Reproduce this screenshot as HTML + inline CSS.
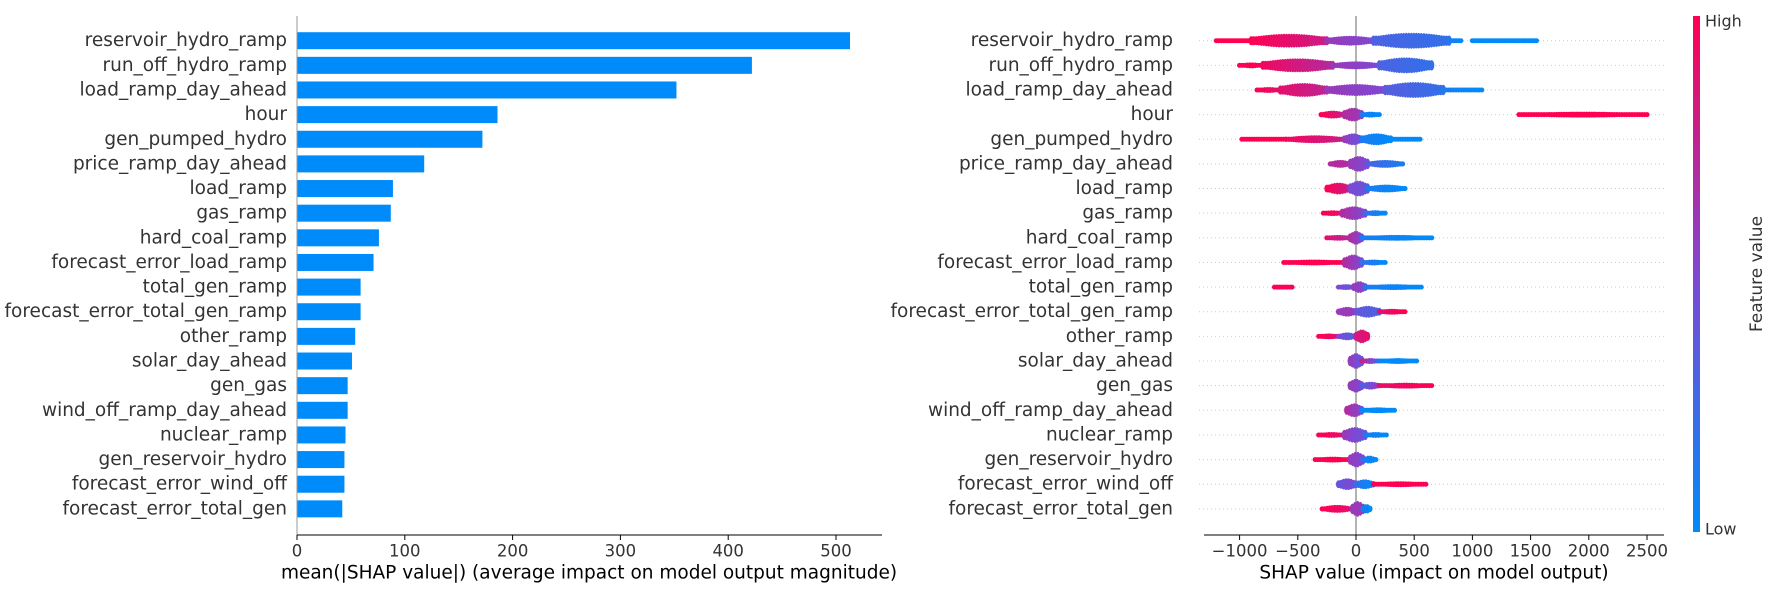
<!DOCTYPE html>
<html><head><meta charset="utf-8"><style>
html,body{margin:0;padding:0;background:#fff;}
svg{display:block;font-family:"DejaVu Sans","Liberation Sans",sans-serif;}
</style></head><body>
<svg id="chart" width="1765" height="590" viewBox="0 0 1765 590" xmlns="http://www.w3.org/2000/svg">
<defs>
<linearGradient id="cbg" x1="0" y1="1" x2="0" y2="0">
<stop offset="0" stop-color="#008afa"/><stop offset="0.5" stop-color="#7f48d2"/><stop offset="1" stop-color="#ff0052"/>
</linearGradient>
</defs>
<g id="left"></g>
<g id="right"></g>
<g>
<rect x="1693" y="16" width="7" height="516" fill="url(#cbg)"/>
<text x="1705" y="22" font-size="16" fill="#333" dominant-baseline="middle">High</text>
<text x="1705" y="530" font-size="16" fill="#333" dominant-baseline="middle">Low</text>
<text x="1757" y="274" font-size="17" fill="#333" text-anchor="middle" transform="rotate(-90 1757 274)" dominant-baseline="middle">Feature value</text>
</g>
</svg>
<script>
const features = ["reservoir_hydro_ramp","run_off_hydro_ramp","load_ramp_day_ahead","hour","gen_pumped_hydro","price_ramp_day_ahead","load_ramp","gas_ramp","hard_coal_ramp","forecast_error_load_ramp","total_gen_ramp","forecast_error_total_gen_ramp","other_ramp","solar_day_ahead","gen_gas","wind_off_ramp_day_ahead","nuclear_ramp","gen_reservoir_hydro","forecast_error_wind_off","forecast_error_total_gen"];
const meanAbsShap = [513,422,352,186,172,118,89,87,76,71,59,59,54,51,47,47,45,44,44,42];
const barTicks = [0,100,200,300,400,500];
const shapTicks = [-1000,-500,0,500,1000,1500,2000,2500];
const shapTickLabels = ["\u22121000","\u2212500","0","500","1000","1500","2000","2500"];
// beeswarm segments per feature: [fromValue, toValue, density(half-height), colorStart(0=low,1=high), colorEnd]
const swarm = [
 [[-1200,-900,2,1,1],[-900,-250,7,1,0.8],[-250,150,5,0.6,0.5],[150,800,8,0.3,0.2],[800,900,2,0.1,0],[1000,1550,2,0,0]],
 [[-1000,-800,3,1,1],[-800,-200,7,0.95,0.7],[-200,200,4,0.6,0.5],[200,650,8,0.3,0.2]],
 [[-850,-650,3,1,0.9],[-650,-250,7,0.9,0.75],[-250,250,6,0.6,0.5],[250,750,8,0.35,0.2],[750,1080,2,0.1,0]],
 [[-300,-100,4,1,0.8],[-100,50,7,0.7,0.6],[50,200,3,0.1,0],[1400,2500,3,1,1]],
 [[-980,-600,2,1,1],[-600,-100,4,0.95,0.8],[-100,50,6,0.6,0.4],[50,300,6,0.1,0],[300,550,2,0,0]],
 [[-220,-50,4,0.7,0.7],[-50,100,8,0.6,0.5],[100,400,4,0.3,0.1]],
 [[-250,-50,6,1,0.8],[-50,100,8,0.5,0.4],[100,420,4,0.1,0]],
 [[-280,-120,3,1,0.9],[-120,80,7,0.7,0.5],[80,250,3,0.2,0]],
 [[-250,-50,3,0.9,0.7],[-50,50,7,0.7,0.5],[50,650,3,0.1,0]],
 [[-620,-100,3,1,1],[-100,50,8,0.7,0.5],[50,250,3,0.2,0]],
 [[-700,-550,2,1,1],[-150,-20,3,0.5,0.4],[-20,80,6,0.6,0.5],[80,560,3,0.1,0]],
 [[-150,0,5,0.6,0.6],[0,200,6,0.4,0.3],[200,420,3,0.9,1]],
 [[-320,-150,3,1,0.9],[-150,0,4,0.5,0.3],[0,100,7,0.8,0.9]],
 [[-50,50,8,0.6,0.4],[50,200,3,0.8,0.3],[200,520,3,0,0]],
 [[-50,50,7,0.6,0.5],[50,200,4,0.3,0.6],[200,650,3,0.9,1]],
 [[-80,50,7,0.7,0.5],[50,330,3,0,0]],
 [[-320,-100,3,1,0.9],[-100,80,8,0.6,0.4],[80,260,3,0.1,0]],
 [[-350,-50,3,1,1],[-50,60,8,0.6,0.5],[60,170,4,0.1,0]],
 [[-150,0,6,0.4,0.5],[0,150,5,0.2,0],[150,600,3,1,1]],
 [[-290,-30,4,1,0.9],[-30,60,8,0.6,0.6],[60,120,5,0.1,0]]
];

const NS="http://www.w3.org/2000/svg";
function mk(tag,attrs,parent,txt){const e=document.createElementNS(NS,tag);for(const k in attrs)e.setAttribute(k,attrs[k]);if(txt!==undefined)e.textContent=txt;parent.appendChild(e);return e;}
const rowY = i => 40.7 + i*24.64;
const xBar = v => 297 + v*1.078;
const xShap = v => 1356 + v*0.1164;
function col(t){const a=[0,138,250],b=[127,72,210],c=[255,0,82];let r;
 if(t<0.5){const u=t/0.5;r=a.map((x,i)=>x+(b[i]-x)*u);}else{const u=(t-0.5)/0.5;r=b.map((x,i)=>x+(c[i]-x)*u);}
 return `rgb(${r.map(Math.round).join(",")})`;}

const L=document.getElementById('left');
features.forEach((f,i)=>{
 const t=mk('text',{x:287,y:rowY(i),'font-size':18.5,fill:'#333','text-anchor':'end','dominant-baseline':'central'},L,f);
 
 
 const r=mk('rect',{x:297,y:rowY(i)-8.5,width:xBar(meanAbsShap[i])-297,height:17,fill:'#008bfb'},L);
 
 
});
let e=mk('line',{x1:297,y1:16,x2:297,y2:535,stroke:'#999','stroke-width':1},L);


e=mk('line',{x1:297,y1:535,x2:882,y2:535,stroke:'#000','stroke-width':1},L);


barTicks.forEach(v=>{
 mk('line',{x1:xBar(v),y1:535,x2:xBar(v),y2:540,stroke:'#000'},L);
 const t=mk('text',{x:xBar(v),y:551,'font-size':16.5,fill:'#333','text-anchor':'middle','dominant-baseline':'central'},L,String(v));
 
 
});
e=mk('text',{x:589,y:573,'font-size':18.5,fill:'#000','text-anchor':'middle','dominant-baseline':'central'},L,'mean(|SHAP value|) (average impact on model output magnitude)');



const R=document.getElementById('right');
features.forEach((f,i)=>{
 const y=rowY(i);
 const g=mk('line',{x1:1199,y1:y,x2:1667,y2:y,stroke:'#ccc','stroke-width':1,'stroke-dasharray':'1,3'},R);
 
 
 const t=mk('text',{x:1173,y:y,'font-size':18.5,fill:'#333','text-anchor':'end','dominant-baseline':'central'},R,f);
 
 
});
e=mk('line',{x1:1356,y1:16,x2:1356,y2:535,stroke:'#999','stroke-width':1.5},R);


features.forEach((f,i)=>{
 const y=rowY(i);
 const grp=mk('g',{},R);
 
 
 swarm[i].forEach(s=>{
  const x0=xShap(s[0]),x1=xShap(s[1]);const n=Math.max(1,Math.round((x1-x0)/2.5));
  for(let k=0;k<=n;k++){
   const u=k/n;const x=x0+(x1-x0)*u;
   const taper=Math.sin(Math.PI*Math.min(1,Math.max(0.15,u<0.5?u*2:(1-u)*2))/2);
   const h=Math.max(2.5,s[2]*(0.55+0.45*taper));
   mk('ellipse',{cx:x,cy:y,rx:2.6,ry:h,fill:col(s[3]+(s[4]-s[3])*u)},grp);
  }
 });
});
e=mk('line',{x1:1204,y1:535,x2:1664,y2:535,stroke:'#000','stroke-width':1},R);


shapTicks.forEach((v,j)=>{
 mk('line',{x1:xShap(v),y1:535,x2:xShap(v),y2:540,stroke:'#000'},R);
 const t=mk('text',{x:xShap(v),y:551,'font-size':16.5,fill:'#333','text-anchor':'middle','dominant-baseline':'central'},R,shapTickLabels[j]);
 
 
});
e=mk('text',{x:1434,y:573,'font-size':18.5,fill:'#000','text-anchor':'middle','dominant-baseline':'central'},R,'SHAP value (impact on model output)');


</script>
</body></html>
